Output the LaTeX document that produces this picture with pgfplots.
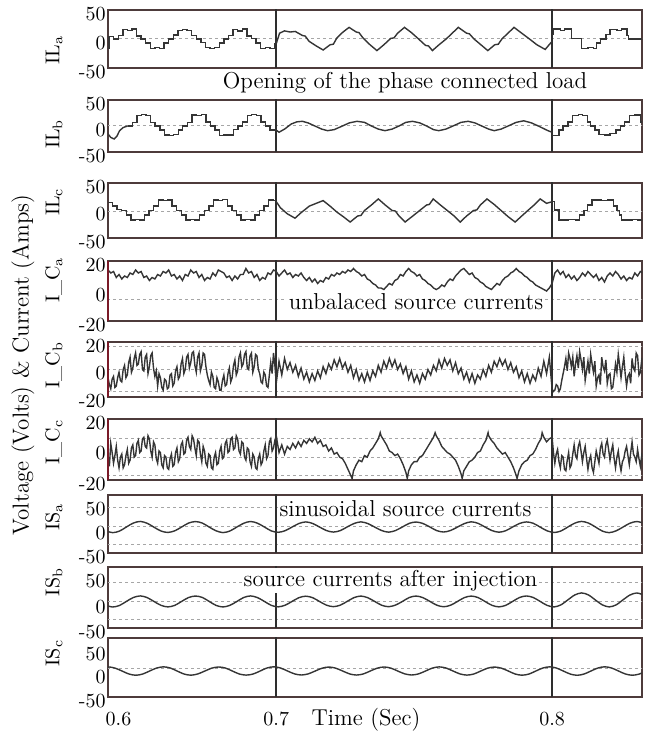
\documentclass[border=0pt]{standalone}
\usepackage{pgfplots}
\pgfplotsset{compat=1.18}

\definecolor{framecol}{HTML}{4D3B3B}
\definecolor{tracecol}{HTML}{353535}
\definecolor{eventcol}{HTML}{2E2E2E}
\definecolor{edgered}{HTML}{7A1A28}

\pgfplotsset{
  wavepanel/.style={
    scale only axis, width=267pt, anchor=north west,
    xmin=0.639, xmax=0.8326,
    xtick=\empty,
    axis line style={draw=framecol, line width=0.9pt},
    tick style={draw=none},
    yticklabel style={font=\fontsize{10}{10}\selectfont, inner sep=1pt, yshift=-2pt},
    xticklabel style={font=\fontsize{10}{10}\selectfont, yshift=-4pt},
  },
  sourcepanel/.style={wavepanel,
    yticklabel style={yshift=0pt}},
  trace/.style={tracecol, line width=0.7pt, no markers},
  steps/.style={trace, const plot},
  smoothtrace/.style={trace, smooth},
  gridln/.style={gray!70, line width=0.5pt, dash pattern=on 1.2pt off 1.8pt, forget plot},
  event/.style={eventcol, line width=0.8pt, forget plot},
}

\begin{document}
\begin{tikzpicture}[x=1pt,y=1pt]

% ---------------- load current, phase a ----------------
\begin{axis}[wavepanel, name=p1, at={(54pt,361.5pt)}, height=29pt,
  ymin=-50, ymax=50, ytick={-50,0,50}, yticklabels={-50,0,50}]
\addplot[gridln] coordinates {(0.63,0) (0.84,0)};
\addplot[event] coordinates {(0.7,-100) (0.7,100)};
\addplot[event] coordinates {(0.8,-100) (0.8,100)};
\addplot[steps] coordinates {(0.6377,-16) (0.63937,4) (0.64103,0) (0.6427,6) (0.64437,16) (0.64603,15) (0.6477,17) (0.64937,5) (0.65103,0) (0.6527,-7) (0.65437,-16) (0.65603,-15) (0.6577,-16) (0.65937,-7) (0.66103,0) (0.6627,7) (0.66437,15) (0.66603,16) (0.6677,15) (0.66937,6) (0.67103,0) (0.6727,-6) (0.67437,-15) (0.67603,-16) (0.6777,-15) (0.67937,-7) (0.68103,0) (0.6827,6) (0.68437,16) (0.68603,14) (0.6877,17) (0.68937,5) (0.69103,1) (0.6927,-7) (0.69437,-16) (0.69603,-15) (0.6977,-16) (0.69937,-8) (0.7,-8)};
\addplot[trace] coordinates {(0.7000,-8) (0.7012,10) (0.7030,14) (0.7050,12) (0.7069,13) (0.7095,6) (0.7105,5) (0.7119,-4) (0.7145,-12) (0.7170,-19) (0.7195,-10) (0.7207,-9) (0.7220,2) (0.7242,12) (0.7264,20) (0.7290,12) (0.7300,11) (0.7314,2) (0.7340,-10) (0.7365,-20) (0.7390,-10) (0.7415,1) (0.7427,2) (0.7440,10) (0.7465,20) (0.7490,11) (0.7516,0) (0.7541,-11) (0.7552,-12) (0.7566,-20) (0.7590,-10) (0.7616,0) (0.7638,10) (0.7660,20) (0.7690,10) (0.7700,9) (0.7717,0) (0.7742,-10) (0.7767,-20) (0.7792,-10) (0.7805,-9) (0.7818,0) (0.7840,10) (0.7862,20) (0.7890,10) (0.7918,0) (0.7945,-10) (0.7975,-18) (0.8000,-4)};
\addplot[steps] coordinates {(0.8000,8) (0.8006,17) (0.8030,15) (0.8046,17) (0.8070,1) (0.8107,-16) (0.8130,-15) (0.8150,-16) (0.8162,-7) (0.8175,0) (0.8195,8) (0.8210,16) (0.8235,15) (0.8252,17) (0.8271,6) (0.8278,0) (0.8340,0)};
\end{axis}

% ---------------- load current, phase b ----------------
\begin{axis}[wavepanel, name=p2, at={(54pt,316.5pt)}, height=26pt,
  ymin=-50, ymax=50, ytick={-50,0,50}, yticklabels={-50,0,50}]
\addplot[gridln] coordinates {(0.63,0) (0.84,0)};
\addplot[event] coordinates {(0.7,-100) (0.7,100)};
\addplot[event] coordinates {(0.8,-100) (0.8,100)};
\addplot[trace] coordinates {(0.6385,-12) (0.6400,-22) (0.6412,-25) (0.6422,-20) (0.6432,-9) (0.6445,-3) (0.6461,0)};
\addplot[steps] coordinates {(0.6461,0) (0.6478,7) (0.6495,20) (0.6511,22) (0.6528,20) (0.6545,7) (0.6561,0) (0.6578,-8) (0.6595,-17) (0.6611,-18) (0.6628,-16) (0.6645,-8) (0.6661,0) (0.6678,7) (0.6695,21) (0.6711,20) (0.6728,22) (0.6745,8) (0.6761,0) (0.6778,-8) (0.6795,-18) (0.6811,-17) (0.6828,-17) (0.6845,-7) (0.6861,0) (0.6878,8) (0.6895,20) (0.6911,22) (0.6928,20) (0.6945,8) (0.6961,0) (0.6978,-8) (0.7,-8)};
\addplot[trace] coordinates {(0.7000,-8) (0.7010,-12) (0.7030,-6) (0.7055,4) (0.7075,8) (0.7095,9) (0.7115,6) (0.7140,0) (0.7165,-6) (0.7186,-9) (0.7210,-7) (0.7240,0) (0.7265,6) (0.7293,9) (0.7320,7) (0.7345,0) (0.7370,-6) (0.7394,-9) (0.7420,-6) (0.7445,0) (0.7470,7) (0.7494,9) (0.7520,6) (0.7545,0) (0.7570,-7) (0.7589,-9) (0.7615,-6) (0.7645,1) (0.7670,7) (0.7696,9) (0.7720,6) (0.7745,0) (0.7770,-6) (0.7790,-9) (0.7815,-6) (0.7845,1) (0.7870,7) (0.7897,10) (0.7925,6) (0.7950,0) (0.7985,-9) (0.8000,-12)};
\addplot[steps] coordinates {(0.8000,-18) (0.8025,-8) (0.8040,0) (0.8058,8) (0.8075,20) (0.8095,22) (0.8110,20) (0.8128,8) (0.8140,0) (0.8155,-8) (0.8170,-16) (0.8190,-17) (0.8210,-15) (0.8232,-8) (0.8248,0) (0.8262,8) (0.8280,20) (0.8300,21) (0.8320,8) (0.8340,8)};
\end{axis}

% ---------------- load current, phase c ----------------
\begin{axis}[wavepanel, name=p3, at={(54pt,275pt)}, height=27.5pt,
  ymin=-50, ymax=50, ytick={-50,0,50}, yticklabels={-50,0,50}]
\addplot[gridln] coordinates {(0.63,-2) (0.84,-2)};
\addplot[event] coordinates {(0.7,-100) (0.7,100)};
\addplot[event] coordinates {(0.8,-100) (0.8,100)};
\addplot[steps] coordinates {(0.6377,14) (0.6406,8) (0.64227,2) (0.64393,0) (0.6456,-8) (0.64727,-17) (0.64893,-16) (0.6506,-17) (0.65227,-8) (0.65393,0) (0.6556,8) (0.65727,19) (0.65893,18) (0.6606,19) (0.66227,8) (0.66393,0) (0.6656,-8) (0.66727,-17) (0.66893,-16) (0.6706,-17) (0.67227,-8) (0.67393,0) (0.6756,8) (0.67727,19) (0.67893,18) (0.6806,20) (0.68227,8) (0.68393,0) (0.6856,-8) (0.68727,-17) (0.68893,-16) (0.6906,-17) (0.69227,-8) (0.69393,0) (0.6956,8) (0.69727,19) (0.69893,18) (0.7,18)};
\addplot[trace] coordinates {(0.7000,16) (0.7015,5) (0.7040,-6) (0.7068,-14) (0.7090,-4) (0.7120,8) (0.7145,13) (0.7170,18) (0.7195,8) (0.7220,-3) (0.7245,-12) (0.7268,-21) (0.7295,-10) (0.7307,-9) (0.7320,0) (0.7345,10) (0.7370,21) (0.7395,10) (0.7420,0) (0.7432,-1) (0.7445,-10) (0.7467,-21) (0.7495,-10) (0.7520,0) (0.7545,10) (0.7555,11) (0.7569,21) (0.7595,10) (0.7620,0) (0.7645,-10) (0.7667,-21) (0.7690,-10) (0.7715,0) (0.7727,1) (0.7740,10) (0.7764,21) (0.7790,11) (0.7815,0) (0.7840,-11) (0.7866,-21) (0.7890,-10) (0.7912,0) (0.7935,10) (0.7957,21) (0.7980,13) (0.8000,16)};
\addplot[steps] coordinates {(0.8000,16) (0.8008,1) (0.8025,-17) (0.8060,-16) (0.8085,-17) (0.8100,-8) (0.8115,0) (0.8128,10) (0.8145,19) (0.8180,18) (0.8200,19) (0.8222,8) (0.8236,0) (0.8245,-8) (0.8252,-17) (0.8290,-16) (0.8310,-17) (0.8340,-17)};
\end{axis}

% ---------------- compensator current, phase a ----------------
\begin{axis}[wavepanel, name=p4, at={(54pt,236pt)}, height=30pt,
  ymin=-20, ymax=20, ytick={-20,0,20}, yticklabels={-20,0,20}]
\addplot[gridln] coordinates {(0.63,-6) (0.84,-6)};
\addplot[event] coordinates {(0.7,-30) (0.7,30)};
\addplot[event] coordinates {(0.8,-30) (0.8,30)};
\addplot[trace] coordinates {(0.639,14) (0.640,12) (0.641,13) (0.642,9) (0.643,11) (0.644,8) (0.645,10) (0.646,9) (0.647,12) (0.648,11) (0.649,14) (0.650,12) (0.651,13) (0.652,9) (0.653,10) (0.654,7) (0.655,9) (0.656,8) (0.657,11) (0.658,10) (0.659,13) (0.660,12) (0.661,14) (0.662,10) (0.663,11) (0.664,8) (0.665,10) (0.666,7) (0.667,11) (0.668,10) (0.669,14) (0.670,12) (0.671,13) (0.672,9) (0.673,11) (0.674,7) (0.675,9) (0.676,8) (0.677,12) (0.678,10) (0.679,14) (0.680,13) (0.681,12) (0.682,9) (0.683,10) (0.684,7) (0.685,10) (0.686,8) (0.687,11) (0.688,11) (0.689,15) (0.690,12) (0.691,13) (0.692,9) (0.693,11) (0.694,7) (0.695,9) (0.696,8) (0.697,12) (0.698,11) (0.699,14)
 (0.700,13) (0.701,10) (0.702,12) (0.703,14) (0.704,11) (0.705,12) (0.706,9) (0.707,11) (0.708,10) (0.709,12) (0.710,9) (0.711,7) (0.712,9) (0.713,6) (0.714,8) (0.715,5) (0.716,7) (0.717,6) (0.718,9) (0.719,8) (0.720,11) (0.721,10) (0.722,12) (0.723,11) (0.724,13) (0.725,12) (0.726,14) (0.727,13) (0.728,15) (0.729,13) (0.730,12) (0.731,10) (0.732,11) (0.733,8) (0.734,7) (0.735,5) (0.736,4) (0.737,2) (0.738,2) (0.739,1) (0.740,3) (0.741,5) (0.742,4) (0.743,7) (0.744,8) (0.745,11) (0.746,10) (0.747,13) (0.748,15) (0.749,13) (0.750,12) (0.751,10) (0.752,11) (0.753,8) (0.754,7) (0.755,5) (0.756,4) (0.757,2) (0.758,1) (0.759,2) (0.760,4) (0.761,3) (0.762,6) (0.763,8) (0.764,7) (0.765,10) (0.766,12) (0.767,14) (0.768,15) (0.769,13) (0.770,11) (0.771,12) (0.772,9) (0.773,8) (0.774,6) (0.775,5) (0.776,3) (0.777,2) (0.778,1) (0.779,3) (0.780,5) (0.781,4) (0.782,7) (0.783,9) (0.784,10) (0.785,12) (0.786,13) (0.787,15) (0.788,13) (0.789,12) (0.790,10) (0.791,9) (0.792,7) (0.793,6) (0.794,4) (0.795,3) (0.796,2) (0.797,1) (0.798,0) (0.799,2)
 (0.800,5) (0.801,12) (0.802,14) (0.803,11) (0.804,13) (0.805,9) (0.806,11) (0.807,8) (0.808,10) (0.809,7) (0.810,9) (0.811,12) (0.812,10) (0.813,13) (0.814,11) (0.815,9) (0.816,11) (0.817,7) (0.818,9) (0.819,6) (0.820,10) (0.821,12) (0.822,10) (0.823,13) (0.824,11) (0.825,8) (0.826,10) (0.827,7) (0.828,9) (0.829,8) (0.830,12) (0.831,10) (0.832,13) (0.833,12)};
\end{axis}

% ---------------- compensator current, phase b ----------------
\begin{axis}[wavepanel, name=p5, at={(54pt,195.5pt)}, height=27.5pt,
  ymin=-20, ymax=20, ytick={-20,0,20}, yticklabels={-20,0,20}]
\addplot[gridln] coordinates {(0.63,17) (0.84,17)};
\addplot[gridln] coordinates {(0.63,0) (0.84,0)};
\addplot[gridln] coordinates {(0.63,-16) (0.84,-16)};
\addplot[event] coordinates {(0.7,-30) (0.7,30)};
\addplot[event] coordinates {(0.8,-30) (0.8,30)};
\addplot[trace] coordinates {(0.639,-6) (0.6395,-11) (0.640,-14) (0.6405,-7) (0.641,-5) (0.6415,-13) (0.642,-12) (0.6425,-6) (0.643,-2) (0.6435,-8) (0.644,-9) (0.6445,0) (0.645,3) (0.6455,-6) (0.646,-4) (0.6465,5) (0.647,9) (0.6475,-2) (0.648,1) (0.6485,8) (0.649,12) (0.6495,3) (0.650,4) (0.6505,11) (0.651,13) (0.6515,0) (0.652,-1) (0.6525,9) (0.653,11) (0.6535,-3) (0.654,2) (0.6545,10) (0.655,12) (0.6555,1) (0.656,-5) (0.6565,-1) (0.657,-12) (0.6575,-3) (0.658,-6) (0.6585,-13) (0.659,-15) (0.6595,-7) (0.660,-8) (0.6605,-14) (0.661,-13) (0.6615,-4) (0.662,-3) (0.6625,-12) (0.663,-10) (0.6635,-1) (0.664,2) (0.6645,-7) (0.665,-5) (0.6655,4) (0.666,8) (0.6665,-3) (0.667,0) (0.6675,9) (0.668,11) (0.6685,1) (0.669,5) (0.6695,12) (0.670,13) (0.6705,3) (0.671,-2) (0.6715,9) (0.672,12) (0.6725,-1) (0.673,3) (0.6735,12) (0.674,11) (0.6745,2) (0.675,-4) (0.6755,-8) (0.676,-11) (0.6765,-2) (0.677,-5) (0.6775,-13) (0.678,-14) (0.6785,-6) (0.679,-9) (0.6795,-15) (0.680,-15) (0.6805,-8) (0.681,-4) (0.6815,-12) (0.682,-11) (0.6825,-3) (0.683,1) (0.6835,-9) (0.684,-6) (0.6845,3) (0.685,7) (0.6855,-4) (0.686,-1) (0.6865,9) (0.687,12) (0.6875,2) (0.688,4) (0.6885,11) (0.689,13) (0.6895,1) (0.690,0) (0.6905,10) (0.691,12) (0.6915,-2) (0.692,2) (0.6925,11) (0.693,10) (0.6935,0) (0.694,-3) (0.6945,-9) (0.695,-10) (0.6955,-2) (0.696,-4) (0.6965,-12) (0.697,-13) (0.6975,-4) (0.698,5) (0.6985,-3) (0.699,12) (0.6995,3)
 (0.700,-10) (0.701,6) (0.702,-4) (0.703,8) (0.704,0) (0.705,5) (0.706,-2) (0.707,3) (0.708,-5) (0.709,1) (0.710,-7) (0.711,-2) (0.712,-9) (0.713,-3) (0.714,-8) (0.715,-1) (0.716,-6) (0.717,2) (0.718,-3) (0.719,4) (0.720,0) (0.721,7) (0.722,2) (0.723,8) (0.724,1) (0.725,5) (0.726,-2) (0.727,3) (0.728,-6) (0.729,0) (0.730,-8) (0.731,-3) (0.732,-9) (0.733,-2) (0.734,-8) (0.735,-1) (0.736,-5) (0.737,3) (0.738,-2) (0.739,6) (0.740,1) (0.741,8) (0.742,2) (0.743,7) (0.744,0) (0.745,4) (0.746,-3) (0.747,2) (0.748,-7) (0.749,-1) (0.750,-9) (0.751,-4) (0.752,-10) (0.753,-3) (0.754,-7) (0.755,0) (0.756,-4) (0.757,3) (0.758,-1) (0.759,7) (0.760,1) (0.761,8) (0.762,3) (0.763,7) (0.764,-1) (0.765,5) (0.766,-3) (0.767,1) (0.768,-7) (0.769,-2) (0.770,-9) (0.771,-3) (0.772,-10) (0.773,-4) (0.774,-7) (0.775,0) (0.776,-5) (0.777,3) (0.778,-2) (0.779,6) (0.780,2) (0.781,8) (0.782,3) (0.783,7) (0.784,0) (0.785,5) (0.786,-2) (0.787,2) (0.788,-6) (0.789,-1) (0.790,-9) (0.791,-3) (0.792,-10) (0.793,-4) (0.794,-8) (0.795,1) (0.796,-5) (0.797,6) (0.798,-3) (0.799,9)
 (0.800,-14) (0.8005,-16) (0.801,-15) (0.8015,-11) (0.802,-12) (0.8025,-16) (0.803,-14) (0.8035,-8) (0.804,-3) (0.8045,2) (0.805,8) (0.8055,-1) (0.806,12) (0.8065,8) (0.807,2) (0.8075,9) (0.808,-5) (0.8085,4) (0.809,10) (0.8095,1) (0.810,13) (0.8105,7) (0.811,0) (0.8115,9) (0.812,-8) (0.8125,-1) (0.813,6) (0.8135,-3) (0.814,11) (0.8145,4) (0.815,-2) (0.8155,6) (0.816,-12) (0.8165,-6) (0.817,-4) (0.8175,-11) (0.818,9) (0.8185,2) (0.819,-1) (0.8195,7) (0.820,-10) (0.8205,-4) (0.821,-3) (0.8215,-14) (0.822,-13) (0.8225,-5) (0.823,4) (0.8235,-2) (0.824,11) (0.8245,3) (0.825,-6) (0.8255,2) (0.826,9) (0.8265,-3) (0.827,-12) (0.8275,-5) (0.828,-3) (0.8285,-10) (0.829,8) (0.8295,1) (0.830,-1) (0.8305,12) (0.831,10) (0.8315,-4) (0.832,-2) (0.8325,7) (0.833,5)};
\end{axis}

% ---------------- compensator current, phase c ----------------
\begin{axis}[wavepanel, name=p6, at={(54pt,157pt)}, height=30.5pt,
  ymin=-20, ymax=20, ytick={-20,0,20}, yticklabels={-20,0,20}]
\addplot[gridln] coordinates {(0.63,7.5) (0.84,7.5)};
\addplot[gridln] coordinates {(0.63,-5) (0.84,-5)};
\addplot[gridln] coordinates {(0.63,-17) (0.84,-17)};
\addplot[event] coordinates {(0.7,-30) (0.7,30)};
\addplot[event] coordinates {(0.8,-30) (0.8,30)};
\addplot[trace] coordinates {(0.639,-4) (0.6395,-11) (0.640,4) (0.6405,-2) (0.641,-9) (0.6415,-4) (0.642,2) (0.6425,-7) (0.643,-12) (0.6435,-5) (0.644,-3) (0.6445,-12) (0.645,-10) (0.6455,-4) (0.646,0) (0.6465,-9) (0.647,-7) (0.6475,1) (0.648,3) (0.6485,-5) (0.649,-4) (0.6495,4) (0.650,6) (0.6505,-2) (0.651,-1) (0.6515,7) (0.652,8) (0.6525,2) (0.653,1) (0.6535,9) (0.654,7) (0.6545,-1) (0.655,-5) (0.6555,5) (0.656,3) (0.6565,-6) (0.657,-9) (0.6575,-1) (0.658,-2) (0.6585,-10) (0.659,-12) (0.6595,-4) (0.660,-5) (0.6605,-12) (0.661,-13) (0.6615,-6) (0.662,-3) (0.6625,-11) (0.663,-10) (0.6635,-2) (0.664,1) (0.6645,-8) (0.665,-6) (0.6655,3) (0.666,5) (0.6665,-3) (0.667,-2) (0.6675,6) (0.668,8) (0.6685,2) (0.669,0) (0.6695,9) (0.670,7) (0.6705,1) (0.671,-4) (0.6715,6) (0.672,5) (0.6725,-3) (0.673,-8) (0.6735,2) (0.674,-1) (0.6745,-9) (0.675,-11) (0.6755,-3) (0.676,-4) (0.6765,-12) (0.677,-13) (0.6775,-5) (0.678,-2) (0.6785,-10) (0.679,-9) (0.6795,-1) (0.680,2) (0.6805,-6) (0.681,-5) (0.6815,4) (0.682,6) (0.6825,-2) (0.683,-1) (0.6835,7) (0.684,8) (0.6845,0) (0.685,1) (0.6855,9) (0.686,7) (0.6865,-1) (0.687,-3) (0.6875,5) (0.688,4) (0.6885,-5) (0.689,-7) (0.6895,1) (0.690,0) (0.6905,-8) (0.691,-11) (0.6915,-3) (0.692,-5) (0.6925,-12) (0.693,-13) (0.6935,-6) (0.694,-3) (0.6945,-10) (0.695,-8) (0.6955,-1) (0.696,3) (0.6965,-6) (0.697,-4) (0.6975,5) (0.698,7) (0.6985,-1) (0.699,1) (0.6995,6)
 (0.700,9) (0.701,-2) (0.702,3) (0.703,-3) (0.704,2) (0.705,0) (0.706,4) (0.707,1) (0.708,5) (0.709,2) (0.710,6) (0.711,4) (0.712,7) (0.713,5) (0.714,8) (0.715,4) (0.716,6) (0.717,2) (0.718,3) (0.719,-1) (0.720,1) (0.721,-3) (0.722,-2) (0.723,-5) (0.724,-6) (0.725,-9) (0.726,-13) (0.727,-17) (0.7275,-19) (0.728,-14) (0.729,-10) (0.730,-7) (0.731,-8) (0.732,-4) (0.733,-5) (0.734,-1) (0.735,1) (0.736,4) (0.737,7) (0.7377,11) (0.738,9) (0.739,6) (0.740,3) (0.741,-1) (0.742,-2) (0.743,-4) (0.744,-3) (0.745,-6) (0.746,-10) (0.747,-15) (0.7475,-19) (0.748,-14) (0.749,-10) (0.750,-8) (0.751,-8) (0.752,-5) (0.753,-4) (0.754,-1) (0.755,2) (0.756,5) (0.757,8) (0.7576,11) (0.758,9) (0.759,6) (0.760,2) (0.761,0) (0.762,-2) (0.763,-3) (0.764,-5) (0.765,-7) (0.766,-11) (0.767,-16) (0.7674,-19) (0.768,-14) (0.769,-11) (0.770,-8) (0.771,-7) (0.772,-5) (0.773,-2) (0.774,-1) (0.775,3) (0.776,6) (0.7768,11) (0.777,9) (0.778,6) (0.779,4) (0.780,1) (0.781,-1) (0.782,-3) (0.783,-2) (0.784,-5) (0.785,-8) (0.786,-12) (0.787,-17) (0.7873,-19) (0.788,-14) (0.789,-10) (0.790,-8) (0.791,-7) (0.792,-4) (0.793,-3) (0.794,0) (0.795,4) (0.796,7) (0.7964,11) (0.797,8) (0.798,5) (0.799,7)
 (0.800,8) (0.8005,-2) (0.801,-9) (0.8015,-3) (0.802,0) (0.8025,-8) (0.803,-12) (0.8035,-4) (0.804,-5) (0.8045,-13) (0.805,-14) (0.8055,-7) (0.806,-2) (0.8065,-12) (0.807,-10) (0.8075,-3) (0.808,3) (0.8085,-4) (0.809,-6) (0.8095,2) (0.810,5) (0.8105,-1) (0.811,-8) (0.8115,-2) (0.812,2) (0.8125,-6) (0.813,-13) (0.8135,-7) (0.814,-4) (0.8145,-12) (0.815,-15) (0.8155,-8) (0.816,-1) (0.8165,-5) (0.817,-9) (0.8175,1) (0.818,4) (0.8185,-3) (0.819,-5) (0.8195,3) (0.820,6) (0.8205,0) (0.821,-7) (0.8215,-1) (0.822,3) (0.8225,-6) (0.823,-12) (0.8235,-5) (0.824,-1) (0.8245,-9) (0.825,-14) (0.8255,-8) (0.826,-6) (0.8265,-1) (0.827,2) (0.8275,-4) (0.828,-10) (0.8285,-2) (0.829,5) (0.8295,-3) (0.830,-5) (0.8305,-8) (0.831,0) (0.8315,-6) (0.832,-11) (0.8325,-4) (0.833,-7)};
\end{axis}

% ---------------- source current, phase a ----------------
\begin{axis}[sourcepanel, name=p7, at={(54pt,119pt)}, height=29pt,
  ymin=-50, ymax=70, ytick={-50,0,50}, yticklabels={-50,0,50}]
\addplot[gridln] coordinates {(0.63,43.3) (0.84,43.3)};
\addplot[gridln] coordinates {(0.63,4.3) (0.84,4.3)};
\addplot[gridln] coordinates {(0.63,-32.9) (0.84,-32.9)};
\addplot[event] coordinates {(0.7,-100) (0.7,100)};
\addplot[event] coordinates {(0.8,-100) (0.8,100)};
\addplot[smoothtrace] coordinates {(0.6382,-4.1) (0.6407,-7.9) (0.6432,-4.6) (0.6457,3.9) (0.6482,12.0)
 (0.6507,15.3) (0.6532,11.5) (0.6557,3.3) (0.6582,-4.5) (0.6607,-7.5) (0.6632,-4.1) (0.6657,3.8) (0.6682,11.9)
 (0.6707,15.0) (0.6732,11.9) (0.6757,3.6) (0.6782,-4.2) (0.6807,-7.8) (0.6832,-4.5) (0.6857,3.7) (0.6882,11.5)
 (0.6907,15.2) (0.6932,11.6) (0.6957,3.8) (0.6982,-4.3) (0.7007,-7.2) (0.7032,-3.9) (0.7057,3.6) (0.7082,11.0)
 (0.7107,14.3) (0.7132,11.1) (0.7157,3.7) (0.7182,-3.6) (0.7207,-6.7) (0.7232,-3.7) (0.7257,3.9) (0.7282,11.0)
 (0.7307,14.4) (0.7332,10.9) (0.7357,3.6) (0.7382,-3.5) (0.7407,-6.9) (0.7432,-3.6) (0.7457,3.7) (0.7482,11.3)
 (0.7507,14.1) (0.7532,11.0) (0.7557,3.8) (0.7582,-3.7) (0.7607,-6.6) (0.7632,-3.4) (0.7657,3.6) (0.7682,10.9)
 (0.7707,14.5) (0.7732,11.3) (0.7757,3.7) (0.7782,-3.6) (0.7807,-7.0) (0.7832,-3.9) (0.7857,3.8) (0.7882,11.1)
 (0.7907,14.3) (0.7932,11.4) (0.7957,3.5) (0.7982,-4.1) (0.8007,-7.6) (0.8032,-4.5) (0.8057,3.7) (0.8082,11.7)
 (0.8107,15.3) (0.8132,11.9) (0.8157,3.9) (0.8182,-4.6) (0.8207,-7.9) (0.8232,-4.2) (0.8257,3.6) (0.8282,11.6)
 (0.8307,15.1) (0.8332,11.7)};
\end{axis}

% ---------------- source current, phase b ----------------
\begin{axis}[sourcepanel, name=p8, at={(54pt,83pt)}, height=30.5pt,
  ymin=-50, ymax=70, ytick={-50,0,50}, yticklabels={-50,0,50}]
\addplot[gridln] coordinates {(0.63,38.8) (0.84,38.8)};
\addplot[gridln] coordinates {(0.63,1.6) (0.84,1.6)};
\addplot[gridln] coordinates {(0.63,-33.2) (0.84,-33.2)};
\addplot[event] coordinates {(0.7,-100) (0.7,100)};
\addplot[event] coordinates {(0.8,-100) (0.8,100)};
\addplot[smoothtrace] coordinates {(0.6382,-5.2) (0.6407,-8.7) (0.6432,-5.6) (0.6457,2.4) (0.6482,10.0)
 (0.6507,13.1) (0.6532,9.8) (0.6557,2.1) (0.6582,-5.4) (0.6607,-8.5) (0.6632,-5.5) (0.6657,2.3) (0.6682,9.9)
 (0.6707,12.9) (0.6732,10.1) (0.6757,2.2) (0.6782,-5.6) (0.6807,-8.6) (0.6832,-5.4) (0.6857,2.1) (0.6882,10.0)
 (0.6907,13.1) (0.6932,9.8) (0.6957,2.3) (0.6982,-5.5) (0.7007,-8.4) (0.7032,-5.2) (0.7057,2.2) (0.7082,9.6)
 (0.7107,12.6) (0.7132,9.6) (0.7157,2.1) (0.7182,-5.1) (0.7207,-8.0) (0.7232,-5.1) (0.7257,2.3) (0.7282,9.8)
 (0.7307,12.8) (0.7332,9.5) (0.7357,2.2) (0.7382,-5.2) (0.7407,-8.1) (0.7432,-5.0) (0.7457,2.1) (0.7482,9.9)
 (0.7507,12.9) (0.7532,9.6) (0.7557,2.3) (0.7582,-5.1) (0.7607,-8.2) (0.7632,-5.2) (0.7657,2.2) (0.7682,9.8)
 (0.7707,12.8) (0.7732,9.8) (0.7757,2.1) (0.7782,-5.4) (0.7807,-8.4) (0.7832,-5.4) (0.7857,2.3) (0.7882,10.0)
 (0.7907,13.0) (0.7932,9.9) (0.7957,2.2) (0.7982,-5.5) (0.8007,-8.6) (0.8032,-4.5) (0.8057,5.2) (0.8082,14.9)
 (0.8107,19.0) (0.8132,15.0) (0.8157,5.1) (0.8182,-4.4) (0.8207,-8.5) (0.8232,-4.6) (0.8257,5.3) (0.8282,14.8)
 (0.8307,18.9) (0.8332,14.9)};
\end{axis}

% ---------------- source current, phase c ----------------
\begin{axis}[sourcepanel, name=p9, at={(54pt,47.5pt)}, height=29.5pt,
  ymin=-50, ymax=75, ytick={-50,0,50}, yticklabels={-50,0,50},
  xtick={0.6428,0.7,0.8}, xticklabels={0.6,0.7,0.8}]
\addplot[gridln] coordinates {(0.63,10.8) (0.84,10.8)};
\addplot[event] coordinates {(0.7,-100) (0.7,100)};
\addplot[event] coordinates {(0.8,-100) (0.8,100)};
\addplot[smoothtrace] coordinates {(0.6366,11.3) (0.6391,13.8) (0.6416,11.1) (0.6441,5.0) (0.6466,-1.3) (0.6491,-3.9) (0.6516,-1.3) (0.6541,5.1) (0.6566,11.3)
 (0.6591,13.9) (0.6616,11.4) (0.6641,4.9) (0.6666,-1.4) (0.6691,-3.8) (0.6716,-1.1) (0.6741,5.0) (0.6766,11.1)
 (0.6791,13.6) (0.6816,11.3) (0.6841,5.0) (0.6866,-1.3) (0.6891,-3.6) (0.6916,-1.3) (0.6941,4.9) (0.6966,11.4)
 (0.6991,14.0) (0.7016,11.3) (0.7041,5.1) (0.7066,-1.0) (0.7091,-3.4) (0.7116,-1.0) (0.7141,5.0) (0.7166,11.0)
 (0.7191,13.5) (0.7216,11.0) (0.7241,5.0) (0.7266,-1.1) (0.7291,-3.5) (0.7316,-1.1) (0.7341,5.1) (0.7366,11.1)
 (0.7391,13.6) (0.7416,11.1) (0.7441,4.9) (0.7466,-1.0) (0.7491,-3.4) (0.7516,-1.0) (0.7541,5.0) (0.7566,11.3)
 (0.7591,13.8) (0.7616,11.3) (0.7641,5.0) (0.7666,-1.1) (0.7691,-3.6) (0.7716,-1.3) (0.7741,4.9) (0.7766,11.0)
 (0.7791,13.5) (0.7816,11.1) (0.7841,5.1) (0.7866,-1.3) (0.7891,-3.8) (0.7916,-1.4) (0.7941,5.0) (0.7966,11.3)
 (0.7991,13.9) (0.8016,11.3) (0.8041,4.9) (0.8066,-1.4) (0.8091,-4.0) (0.8116,-1.3) (0.8141,5.1) (0.8166,11.4)
 (0.8191,14.0) (0.8216,11.4) (0.8241,5.0) (0.8266,-1.3) (0.8291,-3.9) (0.8316,-1.4) (0.8341,5.0)};
\end{axis}

% left edges of the compensator panels
\draw[edgered, line width=1.3pt] (p4.south west) -- (p4.north west);
\draw[edgered, line width=1.3pt] (p5.south west) -- (p5.north west);
\draw[edgered, line width=1.3pt] (p6.south west) -- (p6.north west);

% panel names
\begin{scope}[every node/.style={rotate=90, font=\fontsize{10}{10}\selectfont}]
\node at (27pt,341.5pt) {IL\textsubscript{a}};
\node at (27pt,299.5pt) {IL\textsubscript{b}};
\node at (27pt,265.5pt) {IL\textsubscript{c}};
\node at (27pt,226.5pt) {I\_C\textsubscript{a}};
\node at (27pt,184pt) {I\_C\textsubscript{b}};
\node at (27pt,145.5pt) {I\_C\textsubscript{c}};
\node at (27pt,108pt) {IS\textsubscript{a}};
\node at (27pt,75.5pt) {IS\textsubscript{b}};
\node at (27pt,40pt) {IS\textsubscript{c}};
\end{scope}

% annotations
\begin{scope}[every node/.style={font=\fontsize{11.5}{12}\selectfont, anchor=base, inner sep=1pt}]
\node at (202.5pt,322pt) {Opening of the phase connected load};
\node[fill=white] at (208pt,211.5pt) {unbalaced source currents};
\node[fill=white] at (202.75pt,108.2pt) {sinusoidal source currents};
\node[fill=white] at (195.25pt,73.2pt) {source currents after injection};
\node at (183pt,4pt) {Time (Sec)};
\end{scope}
\node[rotate=90, font=\fontsize{11.5}{12}\selectfont] at (11.5pt,184pt) {Voltage (Volts) \& Current (Amps)};

\pgfresetboundingbox
\path[use as bounding box] (0,0) rectangle (323pt,366.5pt);
\end{tikzpicture}
\end{document}
